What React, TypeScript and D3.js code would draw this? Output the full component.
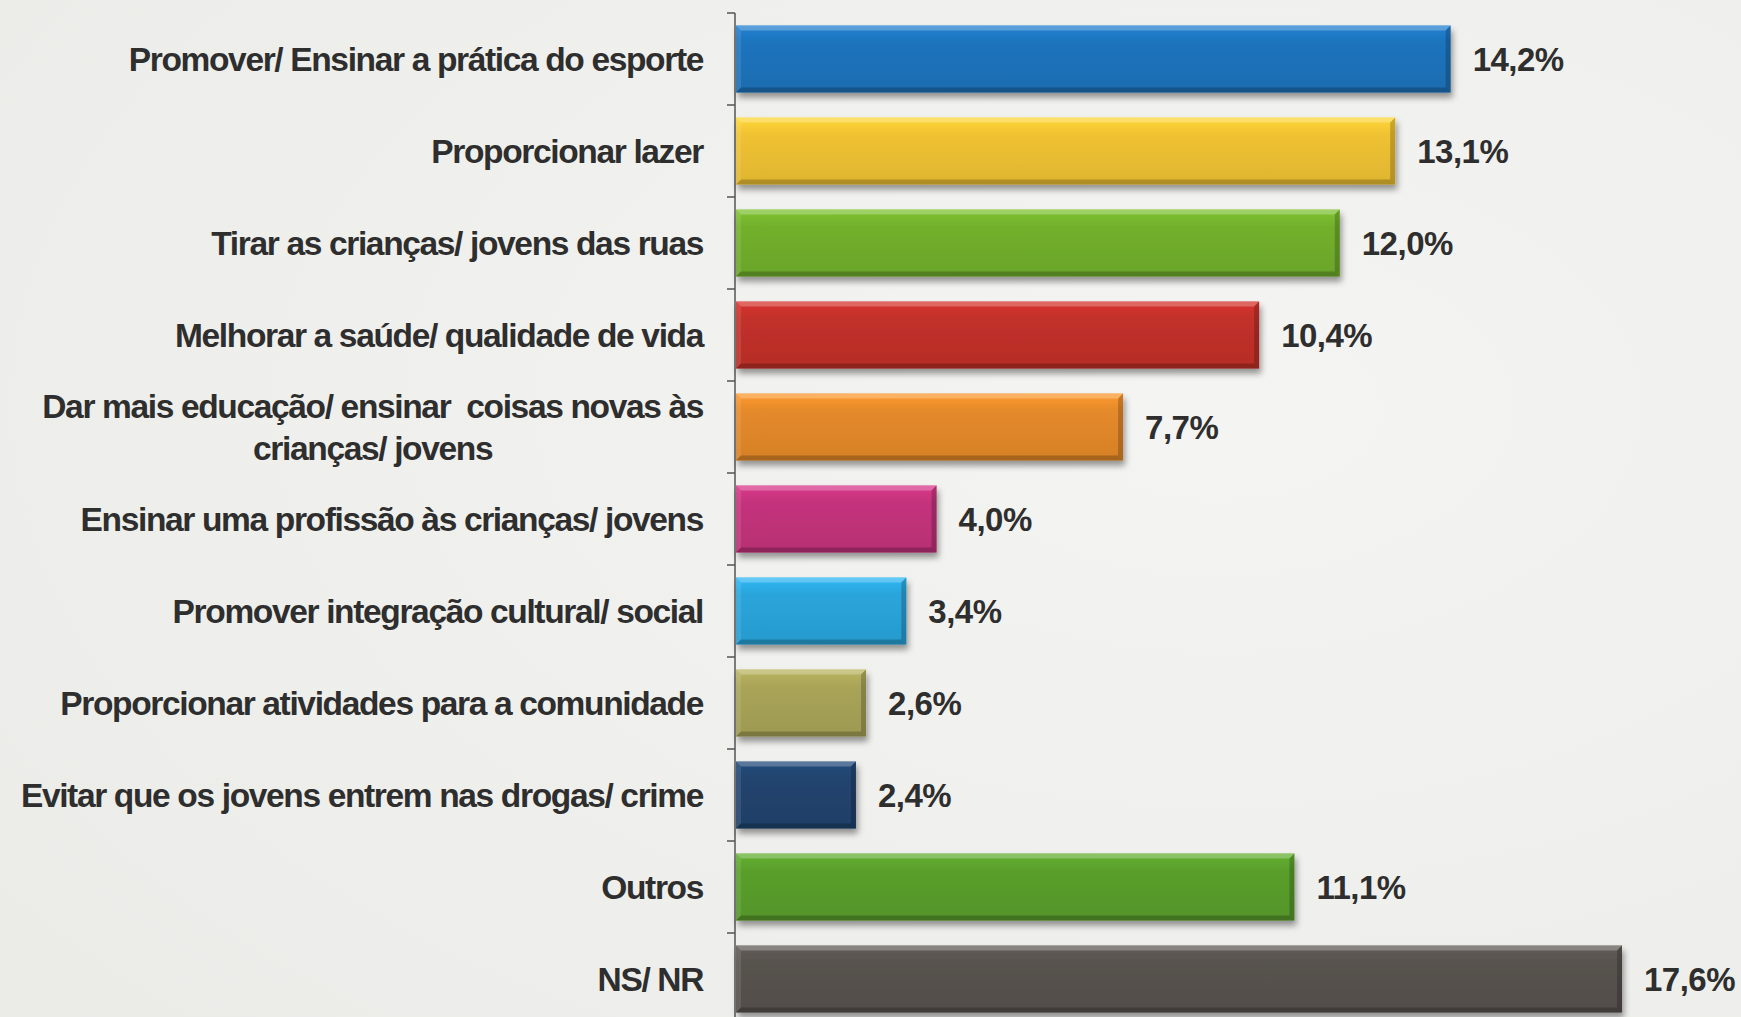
import React, { useEffect, useRef } from "react";
import * as d3 from "d3";

// categories (top to bottom), values in %, bar colours
const categories = [
  "Promover/ Ensinar a prática do esporte",
  "Proporcionar lazer",
  "Tirar as crianças/ jovens das ruas",
  "Melhorar a saúde/ qualidade de vida",
  "Dar mais educação/ ensinar  coisas novas às\ncrianças/ jovens",
  "Ensinar uma profissão às crianças/ jovens",
  "Promover integração cultural/ social",
  "Proporcionar atividades para a comunidade",
  "Evitar que os jovens entrem nas drogas/ crime",
  "Outros",
  "NS/ NR",
];
const values = [14.2, 13.1, 12.0, 10.4, 7.7, 4.0, 3.4, 2.6, 2.4, 11.1, 17.6];
const colors = [
  "#1e74bd",
  "#f0c232",
  "#72b02c",
  "#c2302a",
  "#e58a2a",
  "#c4337c",
  "#2aa5dc",
  "#a9a458",
  "#21446f",
  "#5a9f2c",
  "#58534f",
];

const fmt = (v: number) => v.toFixed(1).replace(".", ",") + "%";

function Chart() {
  const svgRef = useRef<SVGSVGElement>(null);

  useEffect(() => {
    const w = 1741;
    const h = 1017;
    const axisX = 735;
    const labelRight = 703;
    const font = "'Liberation Sans', Arial, sans-serif";

    document.body.style.margin = "0";

    const svg = d3.select(svgRef.current).attr("width", w).attr("height", h);
    svg.selectAll("*").remove();

    const defs = svg.append("defs");
    const bg = defs
      .append("radialGradient")
      .attr("id", "bg")
      .attr("cx", "0.7")
      .attr("cy", "0.4")
      .attr("r", "0.9");
    bg.append("stop").attr("offset", "0%").attr("stop-color", "#f4f4f2");
    bg.append("stop").attr("offset", "100%").attr("stop-color", "#ebece8");

    const shadow = defs
      .append("filter")
      .attr("id", "shadow")
      .attr("x", "-5%")
      .attr("y", "-20%")
      .attr("width", "115%")
      .attr("height", "150%");
    shadow
      .append("feDropShadow")
      .attr("dx", 2)
      .attr("dy", 5)
      .attr("stdDeviation", 3)
      .attr("flood-color", "#000")
      .attr("flood-opacity", 0.4);

    colors.forEach((c, i) => {
      const g = defs
        .append("linearGradient")
        .attr("id", "grad" + i)
        .attr("x1", 0)
        .attr("y1", 0)
        .attr("x2", 0)
        .attr("y2", 1);
      g.append("stop").attr("offset", "0%").attr("stop-color", d3.color(c)!.brighter(0.3).formatHex());
      g.append("stop").attr("offset", "25%").attr("stop-color", c);
      g.append("stop").attr("offset", "100%").attr("stop-color", d3.color(c)!.darker(0.2).formatHex());
    });

    svg.append("rect").attr("width", w).attr("height", h).attr("fill", "url(#bg)");

    const x = d3.scaleLinear().domain([0, 17.6]).range([axisX, 1622]);
    const y = d3
      .scaleBand()
      .domain(categories)
      .range([13, 1025])
      .paddingInner(0.27)
      .paddingOuter(0.135);

    const step = y.step();
    const bh = y.bandwidth();
    const b = 5;

    // axis line + ticks at band boundaries
    svg
      .append("line")
      .attr("x1", axisX)
      .attr("x2", axisX)
      .attr("y1", 13)
      .attr("y2", 1025)
      .attr("stroke", "#555")
      .attr("stroke-width", 1.5);
    d3.range(categories.length + 1).forEach((i) => {
      const ty = 13 + i * step;
      svg
        .append("line")
        .attr("x1", axisX - 8)
        .attr("x2", axisX)
        .attr("y1", ty)
        .attr("y2", ty)
        .attr("stroke", "#555")
        .attr("stroke-width", 1.5);
    });

    const bars = svg
      .selectAll("g.bar")
      .data(categories)
      .join("g")
      .attr("class", "bar");

    bars.each(function (cat, i) {
      const g = d3.select(this);
      const x0 = x(0) + 1;
      const x1 = x(values[i]);
      const y0 = y(cat)!;
      const y1 = y0 + bh;

      g.append("rect")
        .attr("x", x0)
        .attr("y", y0)
        .attr("width", x1 - x0)
        .attr("height", bh)
        .attr("fill", `url(#grad${i})`)
        .attr("filter", "url(#shadow)");

      // bevel edges
      const poly = (pts: [number, number][], fill: string, op: number) =>
        g
          .append("polygon")
          .attr("points", pts.map((p) => p.join(",")).join(" "))
          .attr("fill", fill)
          .attr("fill-opacity", op);
      poly([[x0, y0], [x1, y0], [x1 - b, y0 + b], [x0 + b, y0 + b]], "#fff", 0.25);
      poly([[x0, y0], [x0 + b, y0 + b], [x0 + b, y1 - b], [x0, y1]], "#fff", 0.1);
      poly([[x1, y0], [x1, y1], [x1 - b, y1 - b], [x1 - b, y0 + b]], "#000", 0.2);
      poly([[x0, y1], [x0 + b, y1 - b], [x1 - b, y1 - b], [x1, y1]], "#000", 0.22);

      g.append("text")
        .attr("x", x1 + 22)
        .attr("y", y0 + bh / 2)
        .attr("dy", "0.36em")
        .attr("font-family", font)
        .attr("font-weight", "bold")
        .attr("font-size", 33)
        .attr("letter-spacing", -0.5)
        .attr("fill", "#2e2e2e")
        .text(fmt(values[i]));
    });

    // category labels
    categories.forEach((cat) => {
      const lines = cat.split("\n");
      const cy = y(cat)! + bh / 2;
      const lh = 42;
      const t = svg
        .append("text")
        .attr("font-family", font)
        .attr("font-weight", "bold")
        .attr("font-size", 33.5)
        .attr("letter-spacing", -1.35)
        .attr("fill", "#2e2e2e")
        .style("white-space", "pre");
      if (lines.length === 1) {
        t.attr("x", labelRight)
          .attr("y", cy)
          .attr("dy", "0.36em")
          .attr("text-anchor", "end")
          .text(cat);
      } else {
        // first line right-aligned, following lines centred under it
        const first = t
          .append("tspan")
          .attr("x", labelRight)
          .attr("y", cy - ((lines.length - 1) * lh) / 2)
          .attr("dy", "0.36em")
          .attr("text-anchor", "end")
          .text(lines[0]);
        const len = (first.node() as SVGTextContentElement).getComputedTextLength();
        lines.slice(1).forEach((ln, k) => {
          t.append("tspan")
            .attr("x", labelRight - len / 2)
            .attr("y", cy - ((lines.length - 1) * lh) / 2 + (k + 1) * lh)
            .attr("dy", "0.36em")
            .attr("text-anchor", "middle")
            .text(ln);
        });
      }
    });
  }, []);

  return <svg ref={svgRef} style={{ display: "block" }}></svg>;
}

export default function App() {
  return <Chart />;
}
